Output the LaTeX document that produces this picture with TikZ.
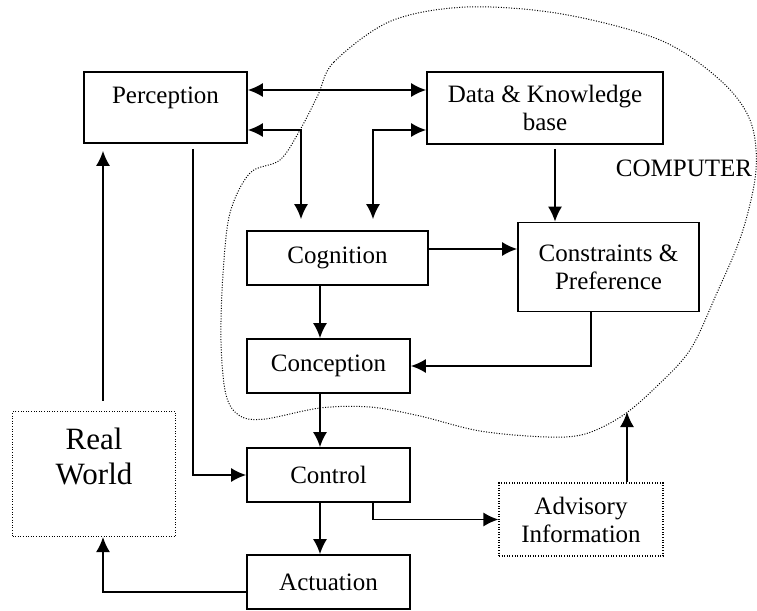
\documentclass[tikz,border=0pt]{standalone}
\usepackage{fontspec}
\setmainfont{Liberation Serif}
\usetikzlibrary{arrows.meta,calc,positioning}

\begin{document}
\begin{tikzpicture}[x=1pt,y=-1pt,
  every node/.style={font=\fontsize{25}{28}\selectfont},
  box/.style={draw,line width=1.7pt,inner sep=0pt,align=center},
  dotbox/.style={draw,line width=1.1pt,dash pattern=on 1pt off 1.6pt,inner sep=0pt,align=center},
  link/.style={line width=1.7pt,-{Latex[length=15pt,width=14pt]}},
  dlink/.style={line width=1.7pt,{Latex[length=15pt,width=14pt]}-{Latex[length=15pt,width=14pt]}}]
\useasboundingbox (0,0) rectangle (757,610);

% the computer
\draw[line width=1pt,dash pattern=on 1pt off 1.6pt] plot[smooth cycle,tension=0.55] coordinates {
  (318,95) (334,62) (391,21) (467,7) (562,14) (660,40) (720,80) (750,120)
  (756,170) (742,233) (716,295) (690,350) (655,388) (622,416) (585,434)
  (547,437) (480,431) (420,416) (370,407) (320,408) (265,419) (240,416)
  (226,395) (221,342) (223,274) (230,213) (250,173) (280,160) (300,130)};
\node (comp) at (684,168) {COMPUTER};

% boxes
\node[box,minimum width=163pt,text height=31pt,text depth=40pt] (perc) at (165.5,107.5) {Perception};
\node[box,minimum width=236pt,minimum height=72pt] (data) at (545,108) {Data \& Knowledge\\base};
\node[box,minimum width=181pt,minimum height=54pt] (cogn) at (337.5,258) {Cognition};
\node[box,minimum width=181pt,minimum height=89pt] (cons) at (608.5,267) {Constraints \&\\Preference};
\node[box,minimum width=163pt,minimum height=54pt] (conc) at (328.5,366) {Conception};
\node[box,minimum width=163pt,minimum height=54pt] (ctrl) at (328.5,475) {Control};
\node[box,minimum width=163pt,minimum height=54pt] (act) at (328.5,582) {Actuation};
\node[dotbox,minimum width=164pt,minimum height=73pt] (adv) at (581,519.5) {Advisory\\Information};
\node[dotbox,minimum width=163pt,minimum height=125pt,font=\fontsize{31}{35}\selectfont] (real) at (94,474) {Real\\World\\\mbox{}};
\coordinate (tip) at (627,412);

% links
\draw[dlink] ([yshift=17.5pt]perc.east) -- ([yshift=17.5pt]perc.east -| data.west);
\draw[dlink,shorten >=11pt] ([yshift=-22.5pt]perc.east) -| ([xshift=-36.5pt]cogn.north);
\draw[dlink,shorten <=11pt] ([xshift=35.5pt]cogn.north) |- ([yshift=-22pt]data.west);
\draw[link] ([xshift=10pt,yshift=-4pt]data.south) -- ([xshift=10pt]data.south |- cons.north);
\draw[link] ([yshift=9pt]cogn.east) -- ([yshift=9pt]cogn.east -| cons.west);
\draw[link] ([xshift=-17.5pt]cogn.south) -- ([xshift=-17.5pt]cogn.south |- conc.north);
\draw[link] ([xshift=-17.5pt]cons.south) |- (conc.east);
\draw[link] ([xshift=-8.5pt]conc.south) -- ([xshift=-8.5pt]conc.south |- ctrl.north);
\draw[link] ([xshift=27.5pt,yshift=-5pt]perc.south) |- (ctrl.west);
\draw[link] ([xshift=-8.5pt]ctrl.south) -- ([xshift=-8.5pt]ctrl.south |- act.north);
\draw[link] ([xshift=44.5pt]ctrl.south) |- (adv.west);
\draw[link] ([xshift=46pt]adv.north) -- (tip);
\draw[link] ([yshift=-10pt]act.west) -| ([xshift=9pt]real.south);
\draw[link,shorten >=7pt] ([xshift=9pt,yshift=10pt]real.north) -- ([xshift=9pt]real.north |- perc.south);

\end{tikzpicture}
\end{document}
